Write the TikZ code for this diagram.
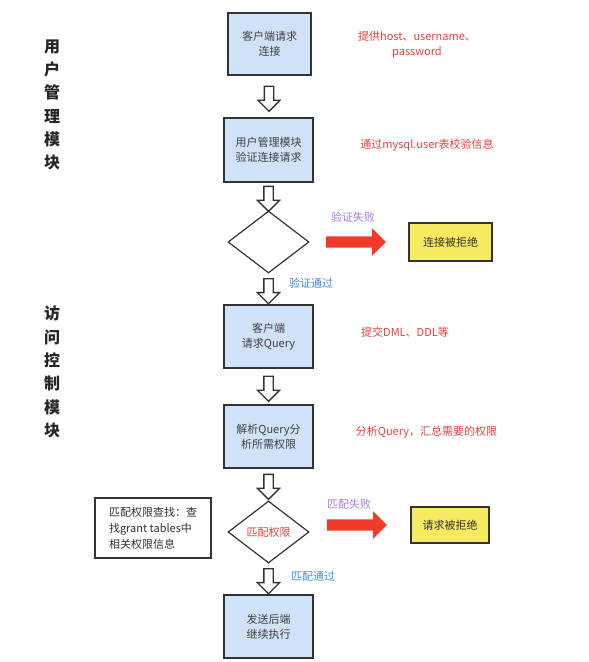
\documentclass[tikz,border=0pt]{standalone}
\usepackage{fontspec}
\setmainfont{Noto Sans CJK SC}
\usetikzlibrary{shapes.geometric,shapes.arrows,calc}
\definecolor{boxblue}{HTML}{CFE2F8}
\definecolor{boxyellow}{HTML}{F6EA5E}
\definecolor{noteRed}{HTML}{E8413C}
\definecolor{arrowRed}{HTML}{F23A2A}
\definecolor{failPurple}{HTML}{A680E0}
\definecolor{passBlue}{HTML}{3A8EE6}
\definecolor{edge}{HTML}{333333}
\tikzset{
  stepbox/.style={draw=edge, line width=1.4pt, fill=boxblue, minimum width=89pt, minimum height=63pt, align=center, font=\fontsize{11}{15}\selectfont, text=black!75, inner sep=2pt},
  rejectbox/.style={draw=edge, line width=1.4pt, fill=boxyellow, minimum width=81pt, minimum height=37pt, font=\fontsize{11}{15}\selectfont, text=black!80},
  decision/.style={draw=edge, line width=1.2pt, shape=diamond, minimum width=81pt, minimum height=62pt, inner sep=0pt, font=\fontsize{11}{15}\selectfont},
  hollowarrow/.style={draw=edge, line width=1.3pt, fill=white, shape=single arrow, shape border rotate=270, minimum height=25pt, single arrow head extend=6.5pt, inner sep=4pt},
  redarrow/.style={fill=arrowRed, shape=single arrow, minimum height=60pt, single arrow head extend=8pt, inner sep=5.5pt},
  note/.style={text=noteRed, font=\fontsize{11}{15}\selectfont, align=center},
  modlabel/.style={font=\fontsize{16}{23.3}\selectfont\bfseries, text=black!85, align=center},
}
\begin{document}
\begin{tikzpicture}[x=1pt,y=-1pt]
\useasboundingbox[fill=white] (0,0) rectangle (589,662);

% module labels
\node[modlabel] (m1) at (52,105) {用\\户\\管\\理\\模\\块};
\node[modlabel] (m2) at (52,372) {访\\问\\控\\制\\模\\块};

% main flow
\node[stepbox, minimum width=83pt, minimum height=62pt] (b1) at (269.5,44) {客户端请求\\连接};
\node[stepbox, minimum height=64pt] (b2) at (268.5,150) {用户管理模块\\验证连接请求};
\node[decision] (d1) at (268.5,242) {};
\node[stepbox] (b3) at (268.5,336.5) {客户端\\请求Query};
\node[stepbox] (b4) at (268.5,436.5) {解析Query分\\析所需权限};
\node[decision, text=noteRed] (d2) at (268.5,532) {匹配权限};
\node[stepbox] (b5) at (268.5,626.5) {发送后端\\继续执行};

% reject boxes
\node[rejectbox, minimum width=83pt, minimum height=38pt] (r1) at (450.5,242) {连接被拒绝};
\node[rejectbox, minimum width=78pt, minimum height=36pt] (r2) at (450,525) {请求被拒绝};

% side info box
\node[draw=edge, line width=1.2pt, minimum width=116pt, minimum height=60pt, align=left, font=\fontsize{11}{16}\selectfont, text=black!80, inner sep=4pt] (info) at (153,528) {匹配权限查找：查\\找grant tables中\\相关权限信息};

% hollow arrows
\node[hollowarrow] (a1) at ($(b1.south)!0.5!(b2.north)$) {};
\node[hollowarrow] (a2) at ($(b2.south)!0.5!(d1.north)$) {};
\node[hollowarrow] (a3) at ($(d1.south)!0.5!(b3.north)$) {};
\node[hollowarrow] (a4) at ($(b3.south)!0.5!(b4.north)$) {};
\node[hollowarrow] (a5) at ($(b4.south)!0.5!(d2.north)$) {};
\node[hollowarrow] (a6) at ($(d2.south)!0.5!(b5.north)$) {};

% red arrows
\node[redarrow] (f1) at ($(d1.east)!0.44!(r1.west)$) {};
\node[redarrow] (f2) at ($(d2.east |- r2.west)!0.44!(r2.west)$) {};

% arrow labels
\node[text=failPurple, font=\fontsize{11}{15}\selectfont] (l1) at (353,217) {验证失败};
\node[text=passBlue, font=\fontsize{11}{15}\selectfont] (l2) at (311,283) {验证通过};
\node[text=failPurple, font=\fontsize{11}{15}\selectfont] (l3) at (349,504) {匹配失败};
\node[text=passBlue, font=\fontsize{11}{15}\selectfont] (l4) at (313,576) {匹配通过};

% annotations
\node[note] (n1) at (417,44.5) {提供host、username、\\password};
\node[note] (n2) at (427,145) {通过mysql.user表校验信息};
\node[note] (n3) at (405,332) {提交DML、DDL等};
\node[note] (n4) at (426.5,432) {分析Query，汇总需要的权限};
\end{tikzpicture}
\end{document}
